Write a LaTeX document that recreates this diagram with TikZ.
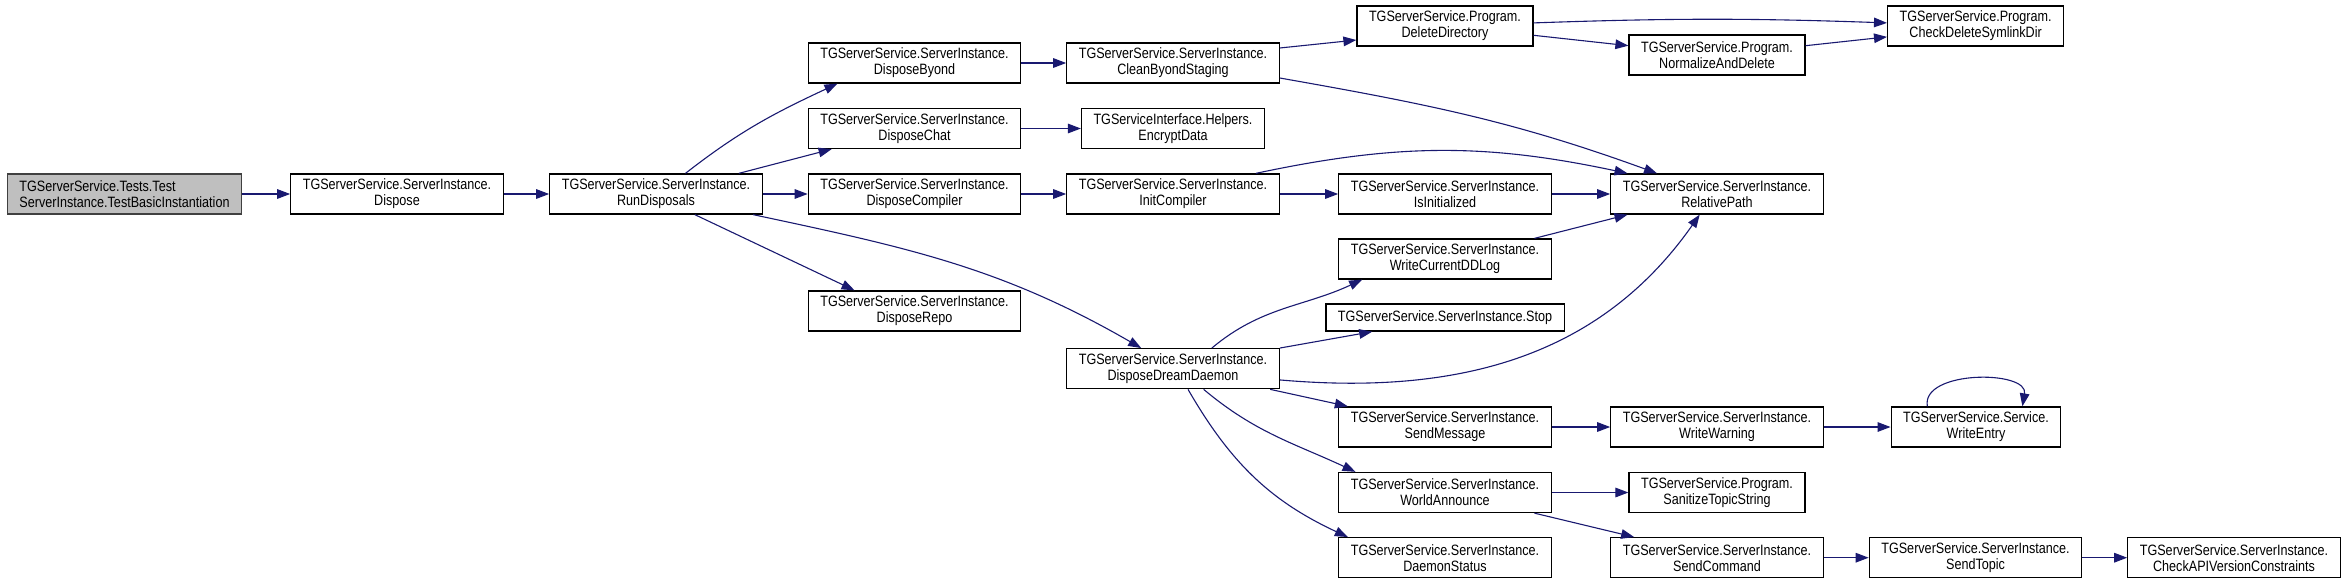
\documentclass[tikz,border=0pt]{standalone}
\usepackage{fontspec}
\setmainfont{Liberation Sans}[FakeStretch=0.84]
\usepackage{tikz}
\usetikzlibrary{arrows.meta}
\definecolor{cEdge}{RGB}{25,25,112}
\definecolor{cRoot}{RGB}{191,191,191}
\definecolor{cRootLine}{RGB}{64,64,64}
\tikzset{
  fnbox/.style={rectangle,draw=black,line width=0.65pt,fill=white,align=center,
                font=\fontsize{7.5pt}{8pt}\selectfont,
                inner xsep=6pt,inner ysep=1.5pt,minimum height=20pt},
  rootbox/.style={fnbox,fill=cRoot,draw=cRootLine,align=left},
  onebox/.style={fnbox,minimum height=13.5pt},
  callarr/.style={-{Triangle[length=6.5pt,width=4.8pt]},line width=0.55pt,color=cEdge}
}

\begin{document}
\begin{tikzpicture}[x=0.5pt,y=0.5pt]
  \useasboundingbox (0,0) rectangle (2345,-584);
  % caller chain
  \node[rootbox] (test) at (124.5,-194)
      {TGServerService.Tests.Test\\ServerInstance.TestBasicInstantiation};
  \node[fnbox] (dispose) at (397,-194) {TGServerService.ServerInstance.\\Dispose};
  \node[fnbox] (rundisp) at (656,-194) {TGServerService.ServerInstance.\\RunDisposals};
  % disposals
  \node[fnbox] (dbyond) at (914.5,-63) {TGServerService.ServerInstance.\\DisposeByond};
  \node[fnbox] (dchat) at (914.5,-128.5) {TGServerService.ServerInstance.\\DisposeChat};
  \node[fnbox] (dcomp) at (914.5,-194) {TGServerService.ServerInstance.\\DisposeCompiler};
  \node[fnbox] (drepo) at (914.5,-311) {TGServerService.ServerInstance.\\DisposeRepo};
  \node[fnbox] (clean) at (1173,-63) {TGServerService.ServerInstance.\\CleanByondStaging};
  \node[fnbox] (encrypt) at (1173,-128.5) {TGServiceInterface.Helpers.\\EncryptData};
  \node[fnbox] (initcomp) at (1173,-194) {TGServerService.ServerInstance.\\InitCompiler};
  \node[fnbox] (ddaemon) at (1173,-368.7) {TGServerService.ServerInstance.\\DisposeDreamDaemon};
  % callees
  \node[fnbox] (deldir) at (1445,-26) {TGServerService.Program.\\DeleteDirectory};
  \node[fnbox] (isinit) at (1445,-194) {TGServerService.ServerInstance.\\IsInitialized};
  \node[fnbox] (wddlog) at (1445,-259) {TGServerService.ServerInstance.\\WriteCurrentDDLog};
  \node[onebox] (stop) at (1445,-317.5) {TGServerService.ServerInstance.Stop};
  \node[fnbox] (sendmsg) at (1445,-427) {TGServerService.ServerInstance.\\SendMessage};
  \node[fnbox] (worldann) at (1445,-492.5) {TGServerService.ServerInstance.\\WorldAnnounce};
  \node[fnbox] (dstatus) at (1445,-557.7) {TGServerService.ServerInstance.\\DaemonStatus};
  \node[fnbox] (normdel) at (1717,-55) {TGServerService.Program.\\NormalizeAndDelete};
  \node[fnbox] (relpath) at (1717,-194) {TGServerService.ServerInstance.\\RelativePath};
  \node[fnbox] (wwarn) at (1717,-427) {TGServerService.ServerInstance.\\WriteWarning};
  \node[fnbox] (sanitize) at (1717,-492.5) {TGServerService.Program.\\SanitizeTopicString};
  \node[fnbox] (sendcmd) at (1717,-557.7) {TGServerService.ServerInstance.\\SendCommand};
  \node[fnbox] (chkdel) at (1975.6,-26) {TGServerService.Program.\\CheckDeleteSymlinkDir};
  \node[fnbox] (wentry) at (1976,-427) {TGServerService.Service.\\WriteEntry};
  \node[fnbox] (sendtopic) at (1975.5,-557.7) {TGServerService.ServerInstance.\\SendTopic};
  \node[fnbox] (chkapi) at (2234,-557.7) {TGServerService.ServerInstance.\\CheckAPIVersionConstraints};

  \foreach \from/\to in {test/dispose,dispose/rundisp,rundisp/dcomp,dbyond/clean,
      dchat/encrypt,dcomp/initcomp,initcomp/isinit,isinit/relpath,sendmsg/wwarn,
      wwarn/wentry,worldann/sanitize,sendcmd/sendtopic,sendtopic/chkapi}
    \draw[callarr] (\from) -- (\to);

  \draw[callarr] (rundisp.35) to[out=38,in=205] (dbyond.195);
  \draw[callarr] (rundisp.14) -- (dchat.194);
  \draw[callarr] (rundisp.-28) -- (drepo.161);
  \draw[callarr] (rundisp.-12) to[out=-12,in=150] (ddaemon.147);
  \draw[callarr] (clean.8) -- (deldir.189);
  \draw[callarr] (clean.-8) to[out=-10,in=160] (relpath.161);
  \draw[callarr] (initcomp.14) to[out=12,in=168] (relpath.167);
  \draw[callarr] (deldir.2) to[out=2,in=178] (chkdel.178);
  \draw[callarr] (deldir.-6) -- (normdel.174);
  \draw[callarr] (normdel.6) -- (chkdel.187);
  \draw[callarr] (ddaemon.28) to[out=40,in=205] (wddlog.194);
  \draw[callarr] (ddaemon.north east) -- (stop.191);
  \draw[callarr] (ddaemon.-6) to[out=-5,in=235] (relpath.230);
  \draw[callarr] (ddaemon.-12) -- (sendmsg.168);
  \draw[callarr] (ddaemon.-34) to[out=-40,in=155] (worldann.167);
  \draw[callarr] (ddaemon.-54) to[out=-60,in=155] (dstatus.168);
  \draw[callarr] (wddlog.13) -- (relpath.193);
  \draw[callarr] (worldann.-13) -- (sendcmd.166);
  \draw[callarr] (wentry.157) to[out=100,in=80] (wentry.24);
\end{tikzpicture}
\end{document}
